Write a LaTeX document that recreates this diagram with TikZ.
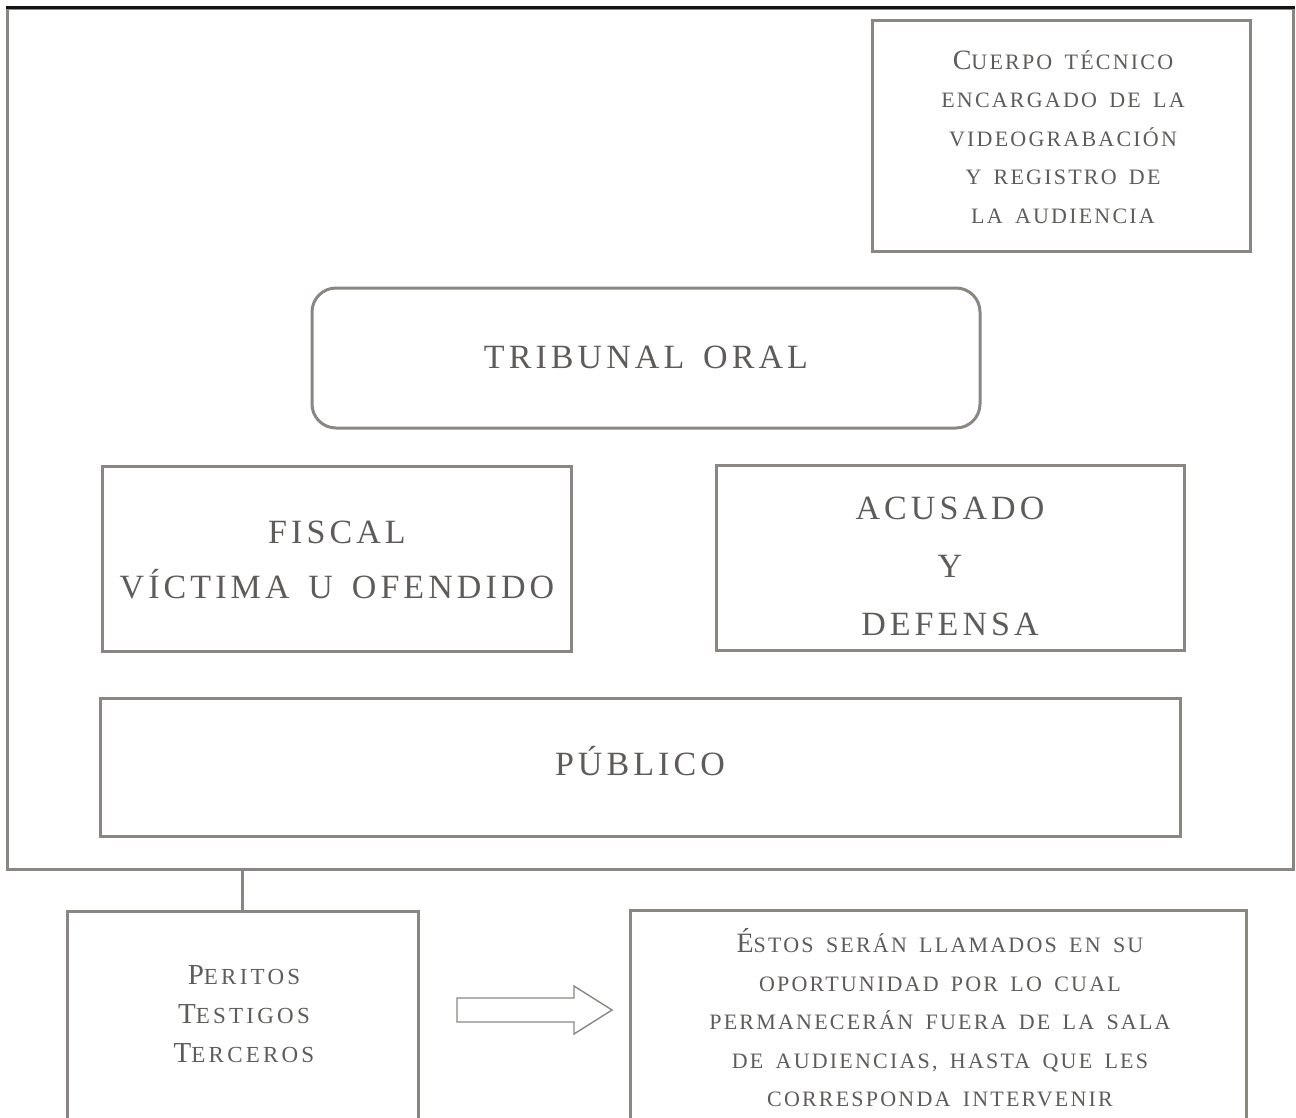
\documentclass[tikz,border=0pt]{standalone}
\usepackage{fontspec}
\setmainfont{Liberation Serif}
% spaced capitals for the main labels
\newfontfamily\wideface[LetterSpace=12,WordSpace=1.5]{Liberation Serif}
% spaced small capitals for the notes
\newfontfamily\scface[LetterSpace=10,WordSpace=1.6]{Liberation Serif}
\newfontfamily\scfaceb[LetterSpace=14]{Liberation Serif}
\newcommand\initA[1]{{\fontsize{28}{28}\selectfont #1}}
\newcommand\initB[1]{{\fontsize{29}{29}\selectfont #1}}

\definecolor{ink}{HTML}{5E5C5A}
\definecolor{rulegray}{HTML}{8A8682}
\definecolor{topblack}{HTML}{151515}

\tikzset{
  x=1pt, y=-1pt,
  box/.style={draw=rulegray, line width=3pt, inner sep=0pt, fill=none},
  roundbox/.style={box, rounded corners=24pt},
  maintext/.style={text=ink, inner sep=0pt, align=center,
    font=\wideface\fontsize{34}{56}\selectfont},
  notetext/.style={text=ink, inner sep=0pt, align=center,
    font=\scface\fontsize{22}{38.5}\selectfont},
  listtext/.style={text=ink, inner sep=0pt, align=center,
    font=\scfaceb\fontsize{23}{39}\selectfont},
  connector/.style={draw=rulegray, line width=3pt},
  blockarrow/.style={draw=rulegray, line width=1.4pt, line join=miter},
}

\begin{document}
\begin{tikzpicture}
\path[use as bounding box] (0,0) rectangle (1296,1118);
\clip (0,0) rectangle (1296,1118);

% courtroom enclosure
\node[box, minimum width=1286pt, minimum height=860pt] (sala) at (650,439) {};
\draw[draw=topblack, line width=3pt] (sala.north west) -- (sala.north east);

% technical staff
\node[box, minimum width=378pt, minimum height=231pt] (tecnico) at (1061,136.5) {};
\node[notetext] (tecnicotxt) at (1063,137)
  {\initA{C}UERPO TÉCNICO\\ENCARGADO DE LA\\VIDEOGRABACIÓN\\Y REGISTRO DE\\LA AUDIENCIA};

% bench
\node[roundbox, minimum width=668pt, minimum height=140pt] (tribunal) at (646,358) {};
\node[maintext] (tribunaltxt) at (646,357) {TRIBUNAL ORAL};

% prosecution and defence
\node[box, minimum width=469pt, minimum height=185pt] (fiscal) at (336.5,559) {};
\node[maintext, font=\wideface\fontsize{34}{55}\selectfont] (fiscaltxt) at (337,560)
  {FISCAL\\VÍCTIMA U OFENDIDO};

\node[box, minimum width=468pt, minimum height=185pt] (acusado) at (950,558) {};
\node[maintext, font=\wideface\fontsize{34}{58}\selectfont] (acusadotxt) at (950,566)
  {ACUSADO\\Y\\DEFENSA};

% audience
\node[box, minimum width=1080pt, minimum height=138pt] (publico) at (640,767) {};
\node[maintext] (publicotxt) at (640,761) {PÚBLICO};

% people waiting outside
\node[box, minimum width=351pt, minimum height=230pt] (peritos) at (242.5,1026) {};
\node[listtext] (peritostxt) at (244,1014)
  {\initB{P}ERITOS\\\initB{T}ESTIGOS\\\initB{T}ERCEROS};

\node[box, minimum width=616pt, minimum height=230pt] (estos) at (938,1025) {};
\node[notetext] (estostxt) at (940,1018)
  {\initA{É}STOS SERÁN LLAMADOS EN SU\\OPORTUNIDAD POR LO CUAL\\PERMANECERÁN FUERA DE LA SALA\\DE AUDIENCIAS, HASTA QUE LES\\CORRESPONDA INTERVENIR};

% link from the room to the waiting group
\draw[connector] (sala.south -| peritos.north) -- (peritos.north);

% outlined block arrow
\draw[blockarrow] (457,998) -- (574,998) -- (574,986) -- (612,1010)
  -- (574,1034) -- (574,1022) -- (457,1022) -- cycle;
\end{tikzpicture}
\end{document}
